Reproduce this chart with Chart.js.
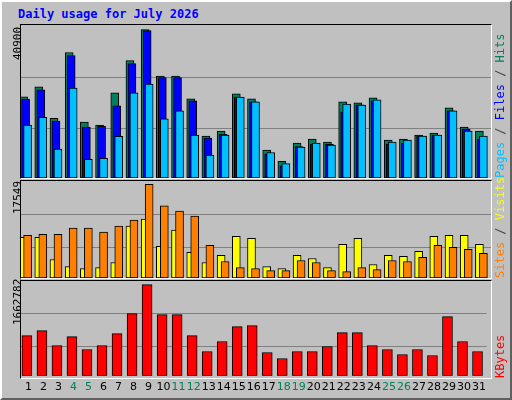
<!DOCTYPE html>
<html lang="en">
<head>
<meta charset="UTF-8">
<title>Daily usage for July 2026</title>
<script src="https://cdn.jsdelivr.net/npm/chart.js"></script>
<style>
  body { margin: 0; background: #fff; }
  #frame {
    position: relative; width: 508px; height: 396px;
    background: #c0c0c0;
    border-left: 2px solid #fff; border-top: 2px solid #fff;
    border-right: 2px solid #606060; border-bottom: 2px solid #606060;
    font-family: 'DejaVu Sans Mono', monospace;
  }
  .panel { position: absolute; left: 18px; width: 471px; }
  .panel canvas { display: block; }
  .box { position: absolute; left: 18px; width: 470px; border: 1px solid #000; border-right-color: #fff; border-bottom-color: #fff; pointer-events: none; }
  h1 { position: absolute; left: 16px; top: 5px; margin: 0; font: bold 12px 'DejaVu Sans Mono', monospace; color: #0000ff; }
  .lbl { position: absolute; font-size: 11px; white-space: nowrap; transform-origin: 0 0; transform: rotate(-90deg); }
  .left { color: #000; }
  .right { font-size: 12px; color: #404040; }
</style>
</head>
<body>
<div id="frame">
  <h1>Daily usage for July 2026</h1>
  <div class="panel" style="top:23px;height:153px"><canvas id="c1" width="471" height="153"></canvas></div>
  <div class="panel" style="top:179px;height:97px"><canvas id="c2" width="471" height="97"></canvas></div>
  <div class="panel" style="top:279px;height:118px"><canvas id="c3" width="471" height="118"></canvas></div>
  <div class="box" style="top:22px;height:153px"></div>
  <div class="box" style="top:178px;height:97px"></div>
  <div class="box" style="top:278px;height:97px"></div>
  <span class="lbl left" style="left:9px;top:58px">40900</span>
  <span class="lbl left" style="left:9px;top:212px">17549</span>
  <span class="lbl left" style="left:9px;top:323px">1662782</span>
  <span class="lbl right" style="left:491px;top:176px"><span style="color:#00c0ff">Pages</span> / <span style="color:#0000ff">Files</span> / <span style="color:#00805c">Hits</span></span>
  <span class="lbl right" style="left:491px;top:276px"><span style="color:#ff8000">Sites</span> / <span style="color:#ffff00">Visits</span></span>
  <span class="lbl right" style="left:491px;top:376px"><span style="color:#ff0000">KBytes</span></span>
</div>
<script>
const days = Array.from({length: 31}, (_, i) => String(i + 1));
const weekend = ['4', '5', '11', '12', '18', '19', '25', '26'];

const hits = [22392, 25168, 16470, 34606, 15453, 14620, 23503, 32386, 40900, 28129, 28129, 21837, 11566, 12954, 23225, 21837, 7680, 4627, 9623, 10734, 9901, 21004, 20727, 22115, 10456, 10734, 11844, 12399, 19339, 14065, 12954];
const files = [21745, 24335, 15730, 33773, 14065, 14250, 19894, 31553, 40621, 27666, 27666, 21282, 11011, 12029, 22300, 21004, 6570, 3331, 8698, 9346, 9253, 18228, 20172, 21282, 9346, 9623, 11566, 11844, 18506, 13509, 10733];
const pages = [14620, 16748, 7958, 24798, 5182, 5459, 11474, 23503, 25908, 16285, 18506, 11844, 6292, 11844, 22300, 21004, 7032, 3979, 8513, 9623, 9068, 20357, 20079, 21559, 9901, 10456, 11566, 11844, 18506, 12954, 11566];

const visits = [7639, 7639, 3472, 2146, 1768, 1957, 2904, 9722, 11048, 5934, 8964, 4798, 2904, 4230, 7828, 7449, 2146, 1768, 4230, 3662, 1957, 6313, 7449, 2525, 4230, 4040, 4987, 7828, 8018, 8018, 6313];
const sites = [8018, 8207, 8207, 9343, 9343, 8586, 9722, 10858, 17549, 13510, 12563, 11616, 6124, 3093, 1957, 1768, 1389, 1389, 3283, 2904, 1389, 1199, 1957, 1578, 3283, 3093, 3851, 6124, 5745, 5366, 4608];

const kbytes = [734300, 825330, 552240, 716100, 479420, 552240, 770710, 1134830, 1662782, 1116620, 1116620, 734300, 443010, 625070, 898150, 916360, 424800, 315570, 443010, 443010, 534040, 788920, 788920, 552240, 479420, 388390, 479420, 370180, 1080210, 625070, 443010];

// pixel shift per dataset so bars overlap like webalizer
const shiftPlugin = {
  id: 'shift',
  afterDatasetsUpdate(chart) {
    chart.data.datasets.forEach((ds, i) => {
      const meta = chart.getDatasetMeta(i);
      meta.data.forEach(el => { el.x += ds.shift || 0; });
    });
  }
};

function bar(label, data, color, shift, order, width) {
  return { label, data, backgroundColor: color, borderColor: '#000', borderWidth: 1,
    borderSkipped: false, shift, order, grouped: false, barThickness: width };
}

function makeChart(id, datasets, max, grid, showX) {
  return new Chart(document.getElementById(id), {
    type: 'bar',
    data: { labels: days, datasets },
    plugins: [shiftPlugin],
    options: {
      responsive: false, animation: false,
      layout: { padding: 0 },
      plugins: { legend: { display: false }, tooltip: { enabled: false } },
      scales: {
        x: {
          display: showX,
          grid: { display: false, drawTicks: false },
          border: { display: false },
          ticks: {
            padding: 5, maxRotation: 0, autoSkip: false,
            font: { family: 'DejaVu Sans', size: 11 },
            color: ctx => weekend.includes(days[ctx.index]) ? '#00805c' : '#000'
          }
        },
        y: {
          min: 0, max,
          afterBuildTicks: s => { s.ticks = grid.map(v => ({ value: v })); },
          ticks: { display: false },
          grid: { color: '#808080', lineWidth: 1, drawTicks: false },
          border: { display: false }
        }
      }
    }
  });
}

makeChart('c1', [
  bar('Hits', hits, '#00805c', -4, 3, 8),
  bar('Files', files, '#0000ff', -2, 2, 8),
  bar('Pages', pages, '#00c0ff', 0, 1, 8)
], 42194, [13694, 27759], false);

makeChart('c2', [
  bar('Visits', visits, '#ffff00', -4, 2, 8),
  bar('Sites', sites, '#ff8000', 0, 1, 8)
], 18181, [5745, 11995], false);

makeChart('c3', [
  bar('KBytes', kbytes, '#ff0000', -1.5, 1, 10)
], 1729600, [534000, 1134800], true);
</script>
</body>
</html>
